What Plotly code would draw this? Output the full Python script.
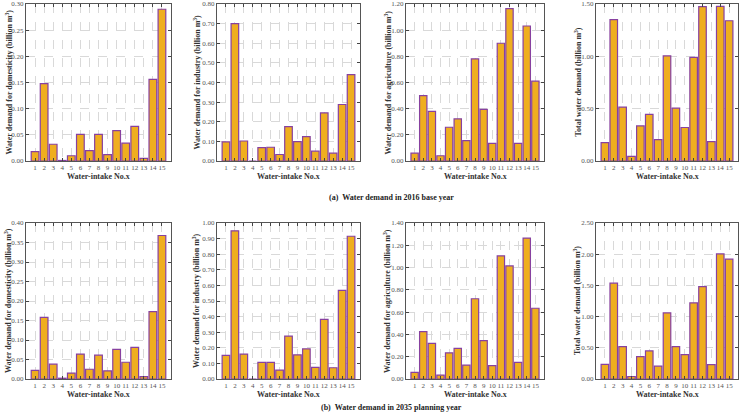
import plotly.graph_objects as go

intakes = list(range(1, 16))
tick_labels = [str(i) for i in intakes]

dom_2016 = [0.018, 0.148, 0.032, 0.001, 0.010, 0.051, 0.020, 0.051, 0.012, 0.058, 0.034, 0.066, 0.005, 0.156, 0.290]
ind_2016 = [0.097, 0.700, 0.102, 0.000, 0.068, 0.070, 0.033, 0.175, 0.099, 0.124, 0.050, 0.245, 0.040, 0.288, 0.440]
agr_2016 = [0.060, 0.500, 0.380, 0.040, 0.258, 0.322, 0.155, 0.780, 0.395, 0.135, 0.900, 1.165, 0.135, 1.032, 0.610]
tot_2016 = [0.175, 1.350, 0.515, 0.045, 0.335, 0.445, 0.205, 1.005, 0.505, 0.320, 0.990, 1.475, 0.185, 1.478, 1.340]

dom_2035 = [0.022, 0.158, 0.038, 0.002, 0.015, 0.064, 0.025, 0.061, 0.021, 0.076, 0.043, 0.081, 0.006, 0.173, 0.368]
ind_2035 = [0.152, 0.950, 0.160, 0.000, 0.107, 0.107, 0.057, 0.275, 0.155, 0.193, 0.075, 0.382, 0.072, 0.568, 0.915]
agr_2035 = [0.060, 0.425, 0.320, 0.035, 0.235, 0.275, 0.125, 0.720, 0.345, 0.120, 1.105, 1.015, 0.150, 1.265, 0.635]
tot_2035 = [0.235, 1.535, 0.520, 0.040, 0.360, 0.450, 0.205, 1.060, 0.520, 0.390, 1.220, 1.480, 0.230, 2.005, 1.920]

titles = [
    "Water demand for domesticity (billion m<sup>3</sup>)",
    "Water demand for industry (billion m<sup>3</sup>)",
    "Water demand for agriculture (billion m<sup>3</sup>)",
    "Total water demand (billion m<sup>3</sup>)",
]
x_title = "Water-intake No.x"
captions = ["(a)  Water demand in 2016 base year", "(b)  Water demand in 2035 planning year"]

series = [dom_2016, ind_2016, agr_2016, tot_2016, dom_2035, ind_2035, agr_2035, tot_2035]
ymax = [0.30, 0.80, 1.20, 1.50, 0.40, 1.00, 1.40, 2.50]
ystep = [0.05, 0.10, 0.20, 0.50, 0.05, 0.10, 0.20, 0.50]

W, H = 742, 418
xpix = [(26, 171), (217, 360), (406, 544), (596, 738)]
ypix = [(4, 161), (223, 379)]
ytitle_x = [8, 196, 387, 577]

FILL = "#EFAE1F"
EDGE = "rgb(135,65,160)"
FONT = "Liberation Serif"

fig = go.Figure()
for k, vals in enumerate(series):
    row, col = divmod(k, 4)
    ax = "" if k == 0 else str(k + 1)
    fig.add_trace(go.Bar(
        x=intakes, y=vals, width=0.85,
        marker=dict(color=FILL, line=dict(color=EDGE, width=1.2)),
        xaxis="x" + ax, yaxis="y" + ax, showlegend=False,
    ))
    x0, x1 = xpix[col]
    yt, yb = ypix[row]
    n = int(round(ymax[k] / ystep[k]))
    tv = [round(i * ystep[k], 2) for i in range(n + 1)]
    fig.update_layout(**{
        "xaxis" + ax: dict(
            domain=[x0 / W, x1 / W], range=[0, 16], anchor="y" + ax,
            tickvals=intakes, ticktext=tick_labels, tickangle=0,
            ticks="inside", ticklen=3, tickcolor="#444", mirror="ticks",
            showline=True, linecolor="#555", linewidth=1,
            showgrid=True, gridcolor="#d9d9d9", griddash="dash", gridwidth=0.8,
            tickfont=dict(family=FONT, size=7, color="#555"),
            automargin=False, zeroline=False,
        ),
        "yaxis" + ax: dict(
            domain=[1 - yb / H, 1 - yt / H], range=[0, ymax[k]], anchor="x" + ax,
            tickvals=tv, tickformat=".2f",
            ticks="inside", ticklen=3, tickcolor="#444", mirror="ticks",
            showline=True, linecolor="#555", linewidth=1,
            showgrid=True, gridcolor="#d9d9d9", griddash="dash", gridwidth=0.8,
            tickfont=dict(family=FONT, size=7, color="#555"),
            automargin=False, zeroline=False,
        ),
    })
    fig.add_annotation(text="<b>" + x_title + "</b>", x=(x0 + x1) / 2 / W, y=1 - (yb + 15) / H,
                       xref="paper", yref="paper", showarrow=False,
                       xanchor="center", yanchor="middle",
                       font=dict(family=FONT, size=8, color="#333"))
    fig.add_annotation(text="<b>" + titles[col] + "</b>", x=ytitle_x[col] / W, y=1 - (yt + yb) / 2 / H,
                       xref="paper", yref="paper", showarrow=False, textangle=-90,
                       xanchor="center", yanchor="middle",
                       font=dict(family=FONT, size=8, color="#333"))

for cap, yc in zip(captions, [197, 407]):
    fig.add_annotation(text="<b>" + cap + "</b>", x=391 / W, y=1 - yc / H,
                       xref="paper", yref="paper", showarrow=False,
                       xanchor="center", yanchor="middle",
                       font=dict(family=FONT, size=8, color="#222"))

fig.update_layout(
    width=W, height=H, margin=dict(l=0, r=0, t=0, b=0, autoexpand=False),
    paper_bgcolor="white", plot_bgcolor="white", bargap=0.15,
)
fig.write_html("out.html", config={"displayModeBar": False},
               post_script="document.body.style.margin='0';document.body.style.padding='0';")
